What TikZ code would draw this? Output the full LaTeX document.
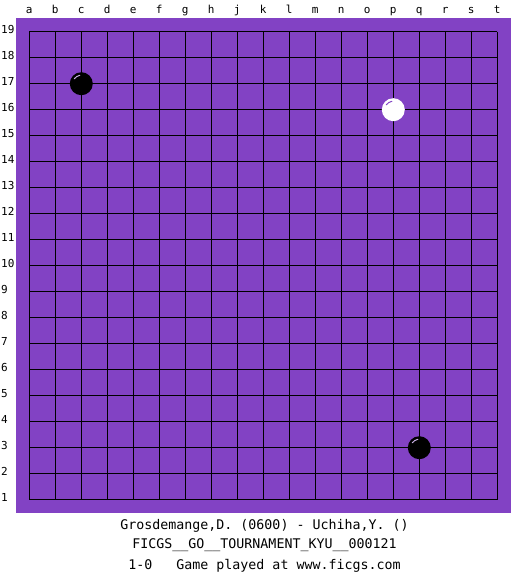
\documentclass[tikz,border=0pt]{standalone}
\usepackage{fontspec}
\setmonofont{DejaVu Sans Mono}
\definecolor{boardpurple}{RGB}{130,66,196}
\begin{document}
\begin{tikzpicture}[x=1pt,y=-1pt,
		gridline/.style={black,line width=1.1pt},
		collabel/.style={font=\ttfamily\fontsize{11}{11}\selectfont,anchor=base,inner sep=0pt},
		rowlabel/.style={font=\ttfamily\fontsize{11}{11}\selectfont,anchor=base west,inner sep=0pt},
		infoline/.style={font=\ttfamily\fontsize{13.3}{13.3}\selectfont,anchor=base,inner sep=0pt},
		blackstone/.style={fill=black},
		whitestone/.style={fill=white},
		stonehl/.style={line width=1pt,line cap=round}]
		\useasboundingbox[fill=white] (0,0) rectangle (525,575);
		\fill[boardpurple] (16,18.3) rectangle (511,512.7);
		% grid
		\foreach \i in {0,...,18} {
			\draw[gridline] (29.3+26*\i,31.7) -- (29.3+26*\i,499.7);
			\draw[gridline] (29.3,31.7+26*\i) -- (497.3,31.7+26*\i);
		}
		% coordinates
		\foreach \c [count=\i from 0] in {a,b,c,d,e,f,g,h,j,k,l,m,n,o,p,q,r,s,t}
			\node[collabel] (col-\c) at (29.3+26*\i,14) {\c};
		\foreach \r in {1,...,19}
			\node[rowlabel] (row-\r) at (1,33.2+26*19-26*\r) {\r};
		% stones
		\fill[blackstone] (81.3,83.7) circle (11.5pt);
		\draw[stonehl,color=boardpurple!40] (81.3,83.7) ++(100:8.5pt) arc (100:145:8.5pt);
		\fill[whitestone] (393.3,109.7) circle (11.5pt);
		\draw[stonehl,color=boardpurple] (393.3,109.7) ++(100:8.5pt) arc (100:145:8.5pt);
		\fill[blackstone] (419.3,447.7) circle (11.5pt);
		\draw[stonehl,color=boardpurple!40] (419.3,447.7) ++(100:8.5pt) arc (100:145:8.5pt);
		% game info
		\node[infoline] (players) at (264.5,529) {Grosdemange,D. (0600) - Uchiha,Y. ()};
		\node[infoline] (event) at (264.5,548.5) {FICGS\_\_GO\_\_TOURNAMENT\_KYU\_\_000121};
		\node[infoline] (result) at (264.5,569) {1-0\ \ \ Game played at www.ficgs.com};
	\end{tikzpicture}
\end{document}
